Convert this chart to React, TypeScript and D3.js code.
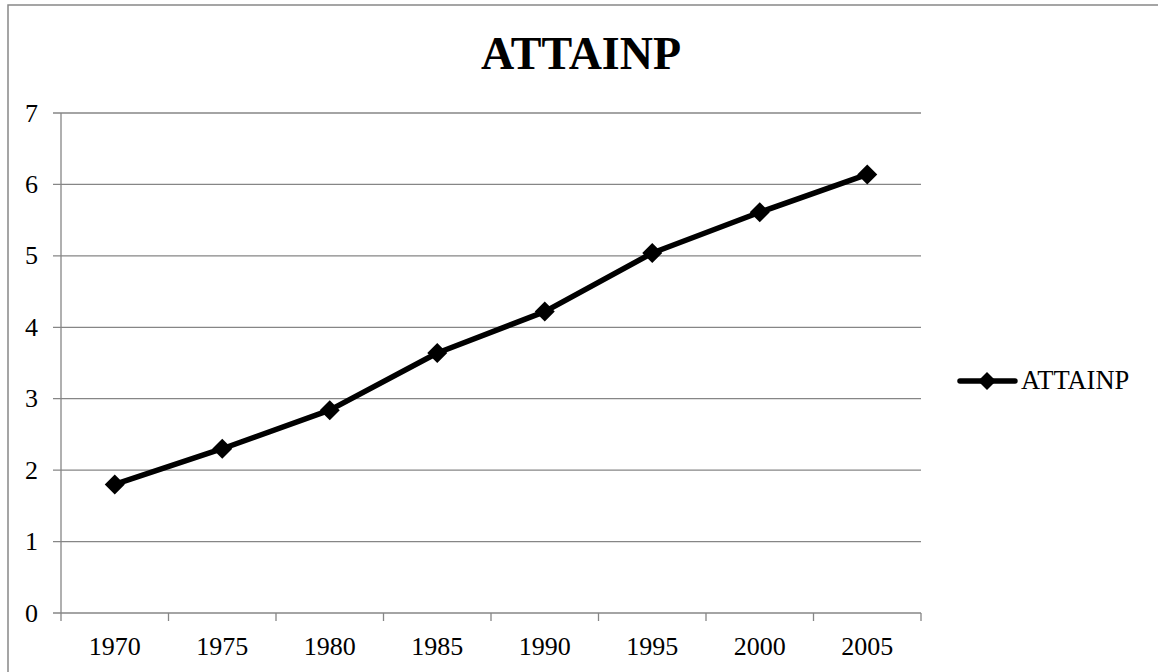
import React from "react";
import * as d3 from "d3";

const years = ["1970", "1975", "1980", "1985", "1990", "1995", "2000", "2005"];
const attainp = [1.8, 2.3, 2.84, 3.64, 4.22, 5.04, 5.61, 6.14];
const yTicks = [0, 1, 2, 3, 4, 5, 6, 7];
const seriesName = "ATTAINP";
const title = "ATTAINP";

export default function App() {
  const W = 1158, H = 672;
  const left = 61, right = 921, top = 113, bottom = 613;
  const x = d3.scaleBand<string>().domain(years).range([left, right]).padding(0);
  const y = d3.scaleLinear().domain([0, 7]).range([bottom, top]);
  const line = d3.line<number>()
    .x((_, i) => (x(years[i]) as number) + x.bandwidth() / 2)
    .y((d) => y(d));
  const grid = "#868686";
  const font = "'Liberation Serif', 'Times New Roman', serif";
  const diamond = (cx: number, cy: number, r: number) =>
    `M${cx},${cy - r}L${cx + r},${cy}L${cx},${cy + r}L${cx - r},${cy}Z`;
  const boundaries = years.map((yr) => x(yr) as number).concat([right]);
  return (
    <svg width={W} height={H} style={{ position: "absolute", left: 0, top: 0, background: "#fff" }} fontFamily={font}>
      <rect x={0} y={0} width={W} height={H} fill="#fff" />
      <rect x={8} y={5} width={W + 20} height={H + 20} fill="none" stroke="#888" strokeWidth={1.5} />
      <text x={581} y={69} textAnchor="middle" fontSize={46} fontWeight="bold" fill="#000">{title}</text>
      {yTicks.map((t) => (
        <g key={t}>
          <line x1={53} x2={right} y1={y(t)} y2={y(t)} stroke={grid} strokeWidth={1.3} />
          <text x={38} y={y(t)} dy="0.33em" textAnchor="end" fontSize={26} fill="#000">{t}</text>
        </g>
      ))}
      <line x1={left} x2={left} y1={top} y2={bottom} stroke={grid} strokeWidth={1.3} />
      {boundaries.map((b, i) => (
        <line key={i} x1={b} x2={b} y1={bottom} y2={bottom + 8} stroke={grid} strokeWidth={1.3} />
      ))}
      {years.map((yr) => (
        <text key={yr} x={(x(yr) as number) + x.bandwidth() / 2} y={655} textAnchor="middle" fontSize={26} fill="#000">{yr}</text>
      ))}
      <path d={line(attainp) || ""} fill="none" stroke="#000" strokeWidth={5.5} strokeLinejoin="round" />
      {attainp.map((v, i) => (
        <path key={i} d={diamond((x(years[i]) as number) + x.bandwidth() / 2, y(v), 10)} fill="#000" />
      ))}
      <line x1={960} x2={1015} y1={381} y2={381} stroke="#000" strokeWidth={5.5} strokeLinecap="round" />
      <path d={diamond(987, 381, 9)} fill="#000" />
      <text x={1021} y={389} fontSize={26.5} fill="#000">{seriesName}</text>
    </svg>
  );
}
